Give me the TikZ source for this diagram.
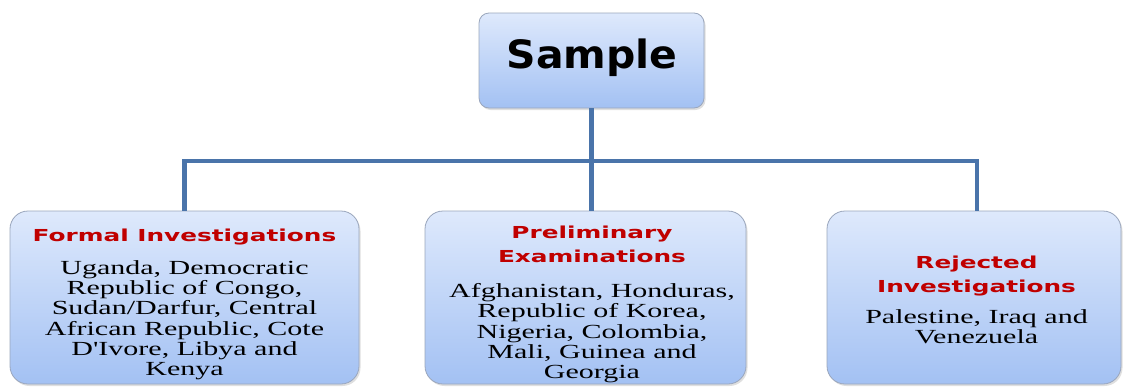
\documentclass[tikz,border=0pt]{standalone}
\usepackage{fontspec}
\usetikzlibrary{shadows,calc}
\newfontfamily\headfont{DejaVu Sans}[FakeStretch=1.5]
\newfontfamily\samplefont{DejaVu Sans}[FakeStretch=1.05]
\newfontfamily\bodyfont{Liberation Serif}[FakeStretch=1.5]
\definecolor{boxtop}{HTML}{DEE9FC}
\definecolor{boxbot}{HTML}{A3C1F3}
\definecolor{boxedge}{HTML}{9AA6BC}
\definecolor{linkblue}{HTML}{4A74AA}
\definecolor{headred}{HTML}{C00000}
\begin{document}
\begin{tikzpicture}[x=1pt,y=-1pt,
  panel/.style={draw=boxedge, line width=0.8pt, rounded corners=#1, top color=boxtop, bottom color=boxbot,
    drop shadow={opacity=0.25, shadow xshift=1.5pt, shadow yshift=-2pt}, inner sep=0pt},
  panel/.default=18pt,
  link/.style={draw=linkblue, line width=4.5pt},
  headtxt/.style={font=\headfont\bfseries\fontsize{16.5}{24}\selectfont, text=headred, align=center, inner sep=0pt, anchor=north},
  bodytxt/.style={font=\bodyfont\fontsize{20}{20.3}\selectfont, text=black, align=center, inner sep=0pt, anchor=north}
]
\useasboundingbox (0,0) rectangle (1123,386);
% boxes
\node[panel=10pt, minimum width=225pt, minimum height=95pt] (sample) at (591.5,60.5) {};
\node[panel, minimum width=349pt, minimum height=173pt] (box1) at (184.5,297.5) {};
\node[panel, minimum width=321pt, minimum height=173pt] (box2) at (585.5,297.5) {};
\node[panel, minimum width=294pt, minimum height=173pt] (box3) at (974,297.5) {};
% connectors
\coordinate (hub) at ($(sample.south)+(0,52.5)$);
\draw[link] (sample.south) -- (sample.south |- box2.north);
\draw[link] (box1.north) |- (hub) -| ([xshift=3pt]box3.north);
% texts
\node[font=\samplefont\bfseries\fontsize{39}{44}\selectfont, inner sep=0pt, anchor=base] (samplet) at (592,68) {Sample};
\node[headtxt] (h1) at (184.5,228.5) {Formal Investigations};
\node[bodytxt] (b1) at (184.5,260.3) {Uganda, Democratic\\Republic of Congo,\\Sudan/Darfur, Central\\African Republic, Cote\\D'Ivore, Libya and\\Kenya};
\node[headtxt] (h2) at (592,225.5) {Preliminary\\Examinations};
\node[bodytxt] (b2) at (592,283.3) {Afghanistan, Honduras,\\Republic of Korea,\\Nigeria, Colombia,\\Mali, Guinea and\\Georgia};
\node[headtxt] (h3) at (976.5,255.5) {Rejected\\Investigations};
\node[bodytxt] (b3) at (976.5,309.3) {Palestine, Iraq and\\Venezuela};
\end{tikzpicture}
\end{document}
